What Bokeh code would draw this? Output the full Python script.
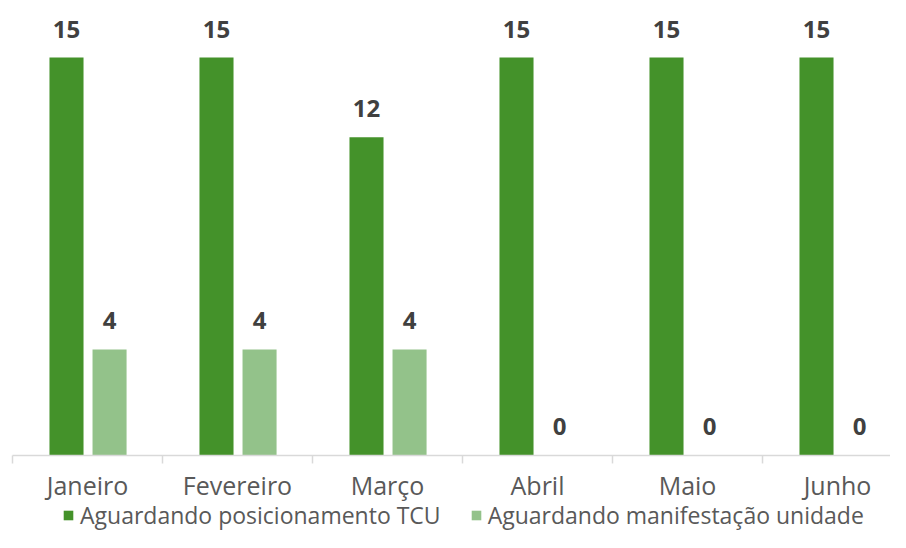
from bokeh.plotting import figure
from bokeh.models import ColumnDataSource, Legend, LegendItem, Range1d
from bokeh.core.properties import value
from bokeh.embed import file_html
from bokeh.resources import INLINE

months = ["Janeiro", "Fevereiro", "Março", "Abril", "Maio", "Junho"]
tcu = [15, 15, 12, 15, 15, 15]
unidade = [4, 4, 4, 0, 0, 0]
series_names = ["Aguardando posicionamento TCU", "Aguardando manifestação unidade"]

DARK = "#44922A"
LIGHT = "#93C28A"
TEXT = "#404040"
LABEL = "#595959"
GRID = "#D9D9D9"

idx = list(range(len(months)))
off_dark, off_light, bw = -0.14, 0.147, 0.227

src = ColumnDataSource(dict(
    xd=[i + off_dark for i in idx],
    xl=[i + off_light for i in idx],
    tcu=tcu,
    uni=unidade,
    tcu_s=[str(v) for v in tcu],
    uni_s=[str(v) for v in unidade],
))
cat_src = ColumnDataSource(dict(x=idx, y=[0] * len(idx), month=months))

p = figure(width=890, height=532, output_backend="svg", toolbar_location=None,
           x_range=Range1d(-0.58, 5.3533), y_range=Range1d(-2.9024, 17.15),
           min_border_left=0, min_border_right=0, min_border_top=0, min_border_bottom=0)
p.outline_line_color = None
p.xgrid.visible = False
p.ygrid.visible = False
p.xaxis.visible = False
p.yaxis.visible = False

r1 = p.vbar(x="xd", top="tcu", width=bw, source=src, color=DARK, line_color=None)
r2 = p.vbar(x="xl", top="uni", width=bw, source=src, color=LIGHT, line_color=None)

# baseline and category separators
bounds = [i - 0.5 for i in idx] + [len(months) - 0.5]
p.segment(x0=[-0.5], y0=[0], x1=[len(months)], y1=[0], line_color=GRID, line_width=1.5)
p.segment(x0=bounds, y0=[0] * len(bounds), x1=bounds, y1=[-0.3] * len(bounds),
          line_color=GRID, line_width=1.5)

# value labels
for xcol, ycol, tcol in (("xd", "tcu", "tcu_s"), ("xl", "uni", "uni_s")):
    p.text(x=xcol, y=ycol, text=tcol, source=src, text_align="center", text_baseline="middle",
           y_offset=-28.5, text_font=value("Open Sans"), text_font_style="bold",
           text_font_size="24px", text_color=TEXT)

# category labels
p.text(x="x", y="y", text="month", source=cat_src, text_align="center", text_baseline="middle",
       y_offset=30, text_font=value("Open Sans"), text_font_size="25px", text_color=LABEL)

legend = Legend(items=[LegendItem(label=series_names[0], renderers=[r1]),
                       LegendItem(label=series_names[1], renderers=[r2])],
                orientation="horizontal", location=(62, 1),
                glyph_width=12, glyph_height=12, label_standoff=6, spacing=29,
                padding=0, margin=0, border_line_color=None, background_fill_alpha=0,
                label_text_font="Open Sans", label_text_font_size="23px",
                label_text_color=LABEL)
p.add_layout(legend)

open("out.html", "w").write(file_html(p, INLINE))
